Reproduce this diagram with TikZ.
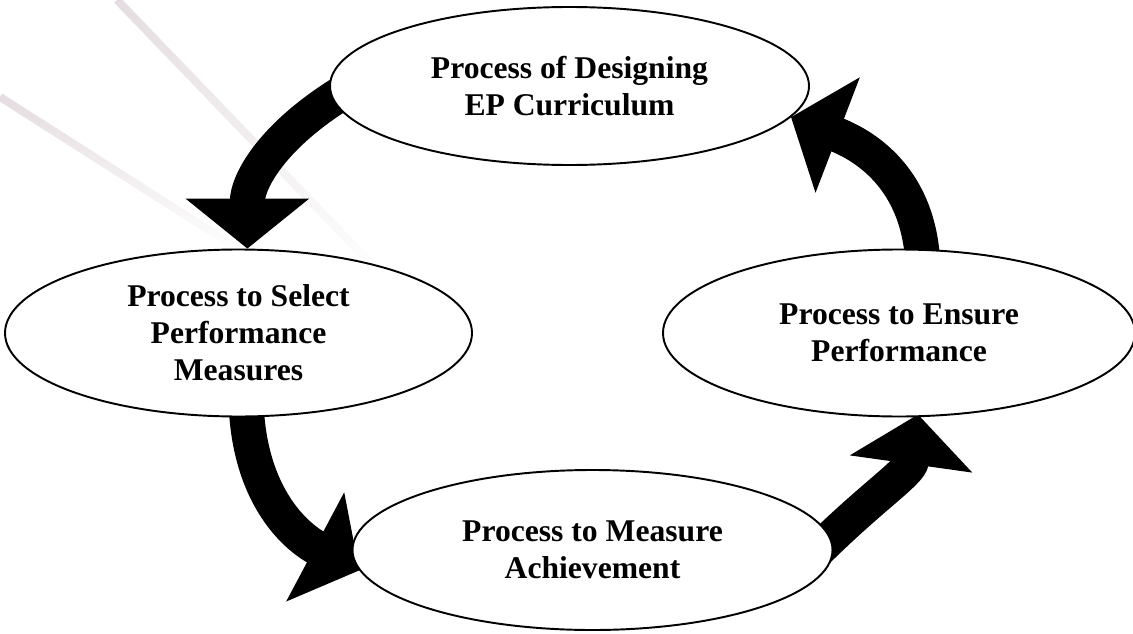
\documentclass[tikz,border=0pt]{standalone}
\usepackage{fontspec}
\setmainfont{Liberation Serif}
\usetikzlibrary{shapes.geometric,arrows.meta,calc,fadings,backgrounds}

\tikzset{
  proc/.style={ellipse, draw, line width=1.1pt, fill=white, align=center,
    inner sep=0pt, font=\fontsize{18}{21}\selectfont\bfseries},
  cyc/.style={line width=0.7cm, shorten <=-0.5cm, -{Triangle[length=1cm, width=2.42cm]}},
  streak/.style={line width=0.16cm, color={rgb,255:red,228;green,220;blue,224}, path fading=south}
}

\begin{document}
\begin{tikzpicture}
        \useasboundingbox (0,0) rectangle (22.66,12.66);
        % the four steps
        \node[proc, minimum width=9.58cm, minimum height=3.16cm] (design) at (11.39,10.94) {Process of Designing\\EP Curriculum};
        \node[proc, minimum width=9.34cm, minimum height=3.34cm] (select) at (4.77,6.0) {Process to Select\\Performance\\Measures};
        \node[proc, minimum width=9.44cm, minimum height=3.34cm] (ensure) at (17.98,6.0) {Process to Ensure\\Performance};
        \node[proc, minimum width=9.6cm, minimum height=3.2cm] (measure) at (11.85,1.66) {Process to Measure\\Achievement};
        \coordinate (ensuretip) at ($(ensure.south)+(0.38,0.06)$);
        \begin{scope}[on background layer]
        % faint streaks in the corner
        \draw[streak] (2.34,12.66) -- (7.6,7.2);
        \draw[streak] (0,10.72) -- (4.8,7.66);
        % the cycle, under the ellipses
        \draw[cyc] (design.183) to[out=210, in=90] (select.84);
        \draw[cyc] (select.275) to[out=-90, in=152] (measure.185);
        \draw[cyc] (measure.3) to[out=45, in=-98] (ensuretip);
        \draw[cyc] (ensure.74) to[out=90, in=-21] (design.352);
        \end{scope}
    \end{tikzpicture}
\end{document}
